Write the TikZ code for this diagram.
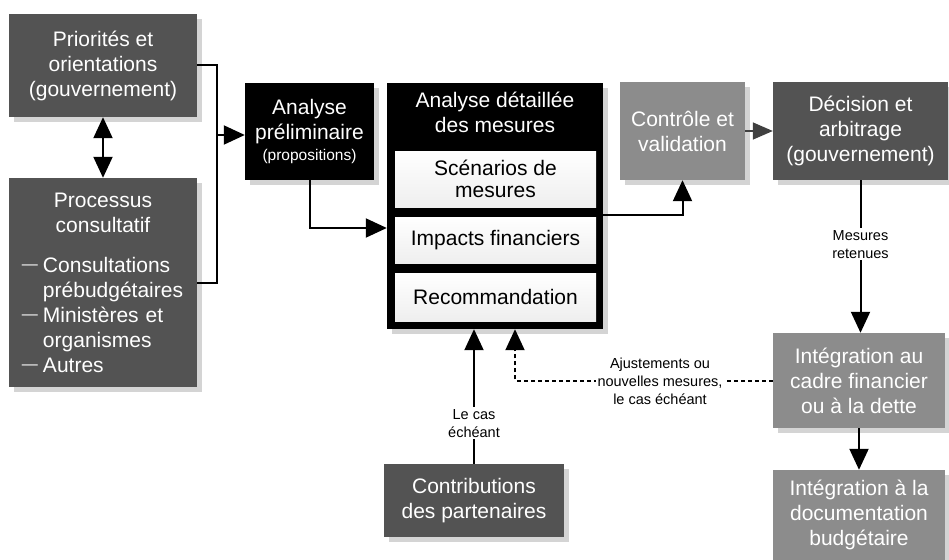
\documentclass[tikz,border=0pt]{standalone}
\usepackage{fontspec}
\setmainfont{Liberation Sans}
\usetikzlibrary{shadows,arrows.meta,calc}
\definecolor{dk}{HTML}{535353}
\definecolor{md}{HTML}{8C8C8C}
\definecolor{sh}{HTML}{D4D4D4}
\newcommand{\itemdash}{\makebox[21pt][l]{\raisebox{2.5pt}{\fontsize{16}{16}\selectfont —}}}
\tikzset{
  base/.style={inner sep=0pt, align=center, text=white,
    font=\fontsize{21}{25}\selectfont,
    drop shadow={shadow xshift=5pt, shadow yshift=-5pt, fill=sh, opacity=1}},
  dkbox/.style={base, fill=dk},
  mdbox/.style={base, fill=md},
  bkbox/.style={base, fill=black},
  inbox/.style={inner sep=0pt, align=center, text=black, top color=white,
    bottom color=gray!13, font=\fontsize{21}{22}\selectfont},
  conn/.style={line width=2pt},
  arr/.style={conn, -{Triangle[length=21pt,width=19pt]}},
  lbl/.style={fill=white, inner sep=2pt, align=center, text=black,
    font=\fontsize{14.5}{18}\selectfont},
}
\begin{document}
\begin{tikzpicture}[x=1pt,y=-1pt]
\useasboundingbox (0,0) rectangle (949,559);

% boxes
\node[dkbox, minimum width=188, minimum height=103] (prio) at (103,65.5)
  {Priorités et\\orientations\\(gouvernement)};
\node[dkbox, minimum width=188, minimum height=209, text width=188pt] (proc) at (103,282.5)
  {Processus\\consultatif\par\vspace{15pt}%
   \raggedright\leftskip=13pt
   \hangindent=21pt\hangafter=1\noindent\itemdash Consultations\newline prébudgétaires\par
   \hangindent=21pt\hangafter=1\noindent\itemdash Ministères et\newline organismes\par
   \hangindent=21pt\hangafter=1\noindent\itemdash Autres\par};
\node[bkbox, minimum width=129, minimum height=97] (prelim) at (309.5,131.5)
  {Analyse\\préliminaire\\[-4pt]{\fontsize{15.5}{18}\selectfont (propositions)}};
\node[bkbox, minimum width=216, minimum height=246] (detail) at (495,206) {};
\node[inner sep=0pt, align=center, text=white, font=\fontsize{21}{25}\selectfont]
  (dtitle) at ($(detail.north)+(0,29.5)$) {Analyse détaillée\\des mesures};
\node[inbox, minimum width=201, minimum height=56] (scen) at (495.5,179) {Scénarios de\\mesures};
\node[inbox, minimum width=201, minimum height=46] (imp) at (495.5,240) {Impacts financiers};
\node[inbox, minimum width=201, minimum height=48] (rec) at (495.5,297) {Recommandation};
\node[mdbox, minimum width=125, minimum height=98] (ctrl) at (682.5,131) {Contrôle et\\validation};
\node[dkbox, minimum width=175, minimum height=98] (dec) at (860.5,131) {Décision et\\arbitrage\\(gouvernement)};
\node[mdbox, minimum width=172, minimum height=95] (integ) at (859,380.5) {Intégration au\\cadre financier\\ou à la dette};
\node[mdbox, minimum width=172, minimum height=90] (doc) at (859,515) {Intégration à la\\documentation\\budgétaire};
\node[dkbox, minimum width=180, minimum height=73] (contrib) at (474,500.5) {Contributions\\des partenaires};

% connectors
\coordinate (bus) at (217,135);
\draw[conn] (prio.east) -| (bus) |- (proc.east);
\draw[arr] (bus) -- (bus -| prelim.west);
\draw[conn, {Triangle[length=21pt,width=19pt]}-{Triangle[length=21pt,width=19pt]}] (prio.south) -- (proc.north);
\draw[arr] (prelim.south) |- ($(detail.west)+(0,22)$);
\draw[arr] ($(detail.east)+(0,9)$) -| (ctrl.south);
\draw[line width=1.6pt, draw=black!75, -{Triangle[length=20pt,width=17pt]}] (ctrl.east) -- (dec.west);
\draw[arr] (dec.south) -- node[lbl, pos=0.42] (mr) {Mesures\\retenues} (dec.south |- integ.north);
\draw[arr] (integ.south) -- (integ.south |- doc.north);
\draw[arr, dash pattern=on 4pt off 3pt] (integ.west) -| ($(detail.south)+(20,0)$);
\node[lbl] (adj) at (660,381) {Ajustements ou\\nouvelles mesures,\\le cas échéant};
\draw[arr] (contrib.north) -- node[lbl, pos=0.3] (lce) {Le cas\\échéant} (contrib.north |- detail.south);
\end{tikzpicture}
\end{document}
